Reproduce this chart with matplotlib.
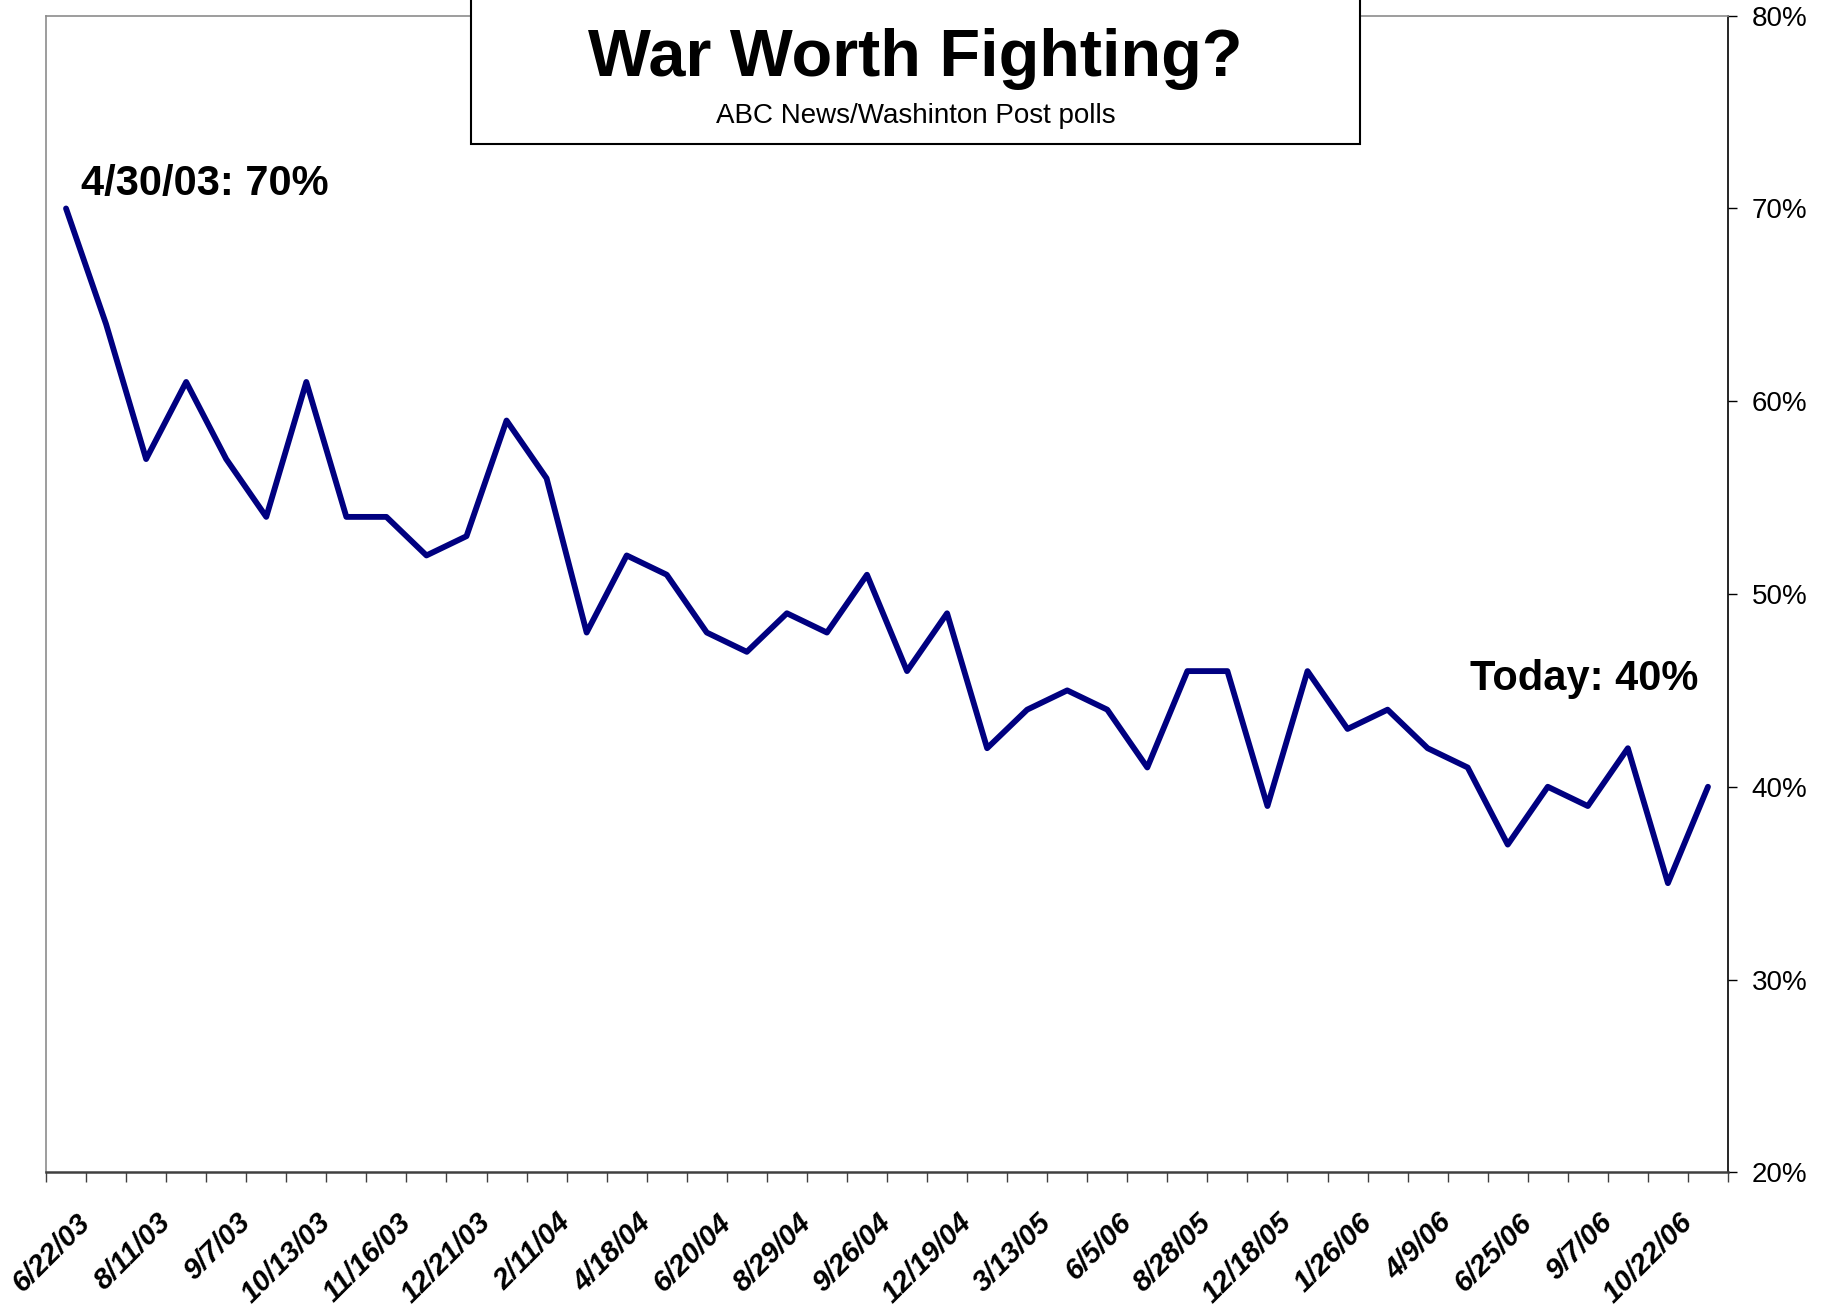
import numpy as np
import matplotlib.pyplot as plt
from matplotlib.patches import Rectangle

plt.rcParams['font.family'] = ['Liberation Sans', 'DejaVu Sans']

# ABC News / Washington Post: share saying the war was worth fighting (%)
pct = [70, 64, 57, 61, 57, 54, 61, 54, 54, 52, 53, 59, 56, 48, 52, 51, 48, 47,
       49, 48, 51, 46, 49, 42, 44, 45, 44, 41, 46, 46, 39, 46, 43, 44, 42, 41,
       37, 40, 39, 42, 35, 40]
date_labels = ['6/22/03', '8/11/03', '9/7/03', '10/13/03', '11/16/03', '12/21/03',
               '2/11/04', '4/18/04', '6/20/04', '8/29/04', '9/26/04', '12/19/04',
               '3/13/05', '6/5/06', '8/28/05', '12/18/05', '1/26/06', '4/9/06',
               '6/25/06', '9/7/06', '10/22/06']
y_ticks = [20, 30, 40, 50, 60, 70, 80]

W, H = 1822, 1310
fig = plt.figure(figsize=(W / 100, H / 100), dpi=100)
ax = fig.add_axes([46 / W, 1 - 1172.3 / H, (1728 - 46) / W, (1172.3 - 15.7) / H])

x = np.arange(len(pct))
ax.plot(x, pct, color='#000080', lw=4.2, solid_joinstyle='round', solid_capstyle='round')

ax.set_xlim(-0.5, len(pct) - 0.5)
ax.set_ylim(20, 80)

# category axis: labels on every other boundary (major), marks on all boundaries (minor)
ax.xaxis.remove_overlapping_locs = False
ax.set_xticks(np.arange(len(date_labels)) * 2 + 0.5, labels=date_labels)
ax.set_xticks(np.arange(len(pct) + 1) - 0.5, minor=True)
ax.tick_params(axis='x', which='minor', direction='out', length=7.2, width=1,
               color='#404040')
ax.tick_params(axis='x', which='major', length=0, pad=33)
for lab in ax.get_xticklabels():
    lab.set_rotation(45)
    lab.set_rotation_mode('anchor')
    lab.set_ha('right')
    lab.set_va('center')
    lab.set_fontsize(21)
    lab.set_fontweight('bold')
    lab.set_fontstyle('italic')

ax.yaxis.tick_right()
ax.set_yticks(y_ticks, labels=[f'{v}%' for v in y_ticks])
ax.tick_params(axis='y', which='major', direction='out', length=6.5, width=1,
               color='black', pad=10.5, labelsize=20)

for side in ['left', 'top']:
    ax.spines[side].set_color('#8c8c8c')
    ax.spines[side].set_linewidth(1.2)
ax.spines['right'].set_color('black')
ax.spines['right'].set_linewidth(1.2)
ax.spines['bottom'].set_color('#404040')
ax.spines['bottom'].set_linewidth(1.8)

ax.text(0.37, 70.7, '4/30/03: 70%', fontsize=30, fontweight='bold',
        ha='left', va='baseline')
ax.text(40.77, 45.03, 'Today: 40%', fontsize=30, fontweight='bold',
        ha='right', va='baseline')

# title box hanging from the top edge
box = Rectangle((471 / W, 1 - 144 / H), (1360 - 471) / W, 0.2,
                transform=fig.transFigure, facecolor='white', edgecolor='black',
                lw=1.5, zorder=5)
fig.add_artist(box)
fig.text(915.5 / W, 1 - 76 / H, 'War Worth Fighting?', fontsize=48,
         fontweight='bold', ha='center', va='baseline', zorder=6)
fig.text(915.5 / W, 1 - 123 / H, 'ABC News/Washinton Post polls', fontsize=20,
         ha='center', va='baseline', zorder=6)

fig.savefig('out.png', dpi=100)
